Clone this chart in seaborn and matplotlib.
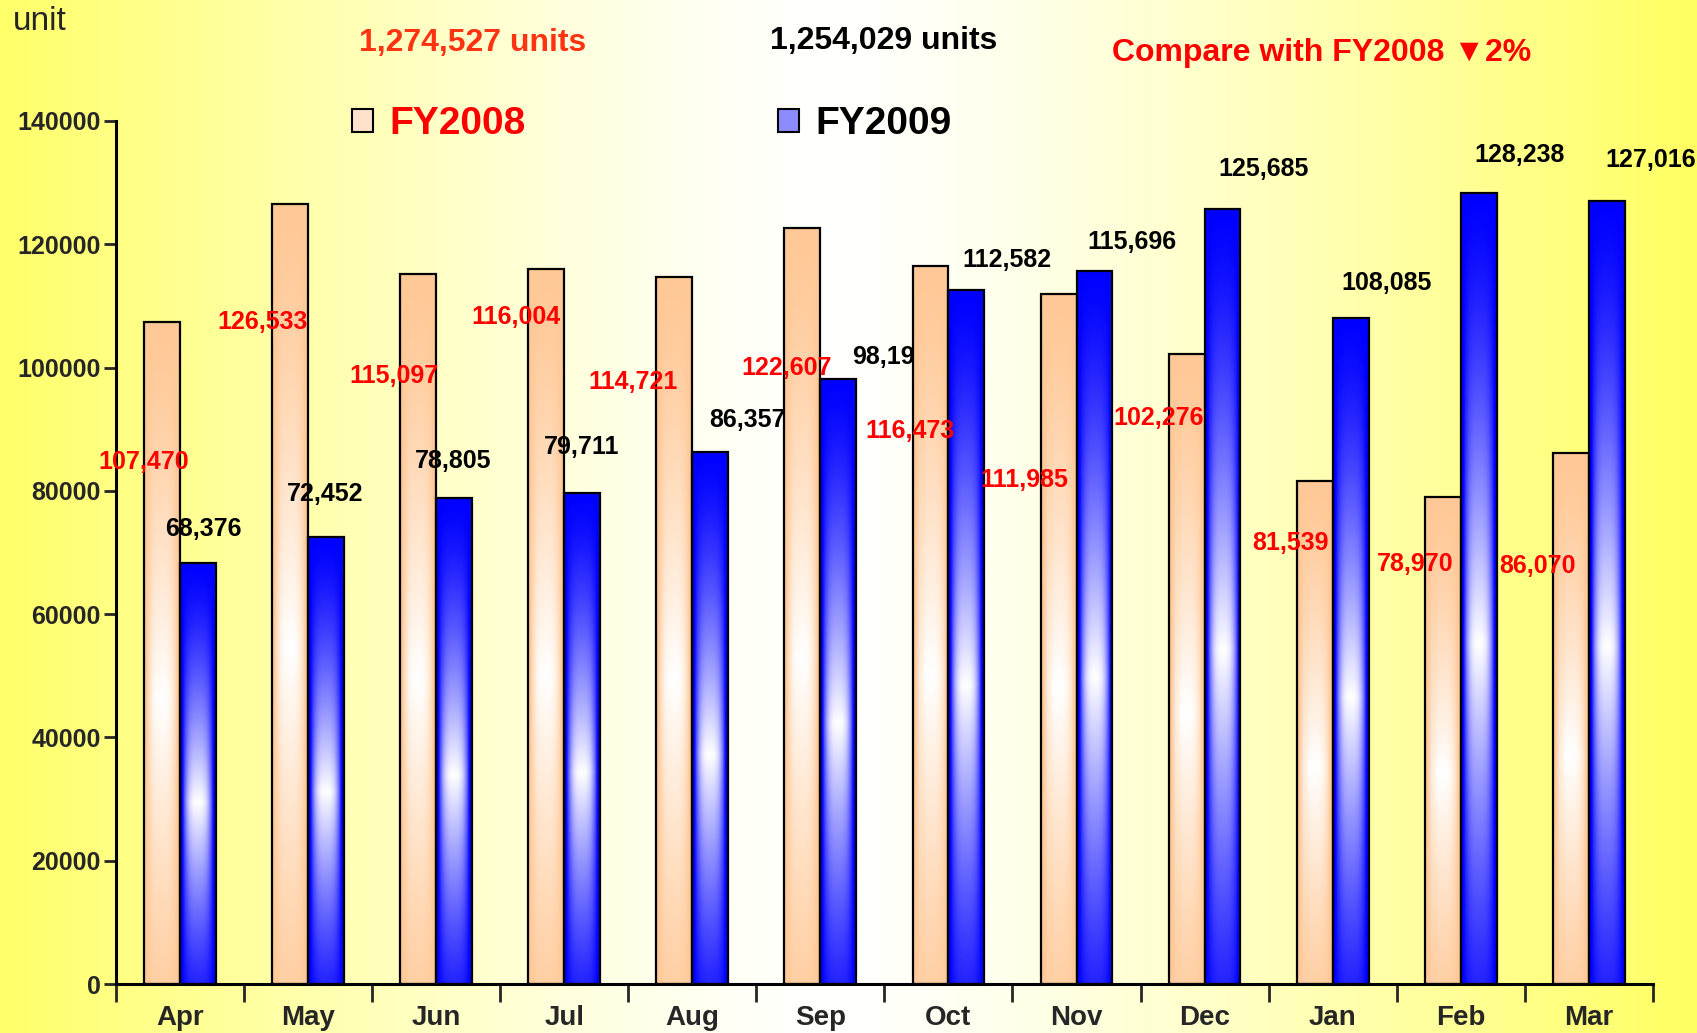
import numpy as np
import pandas as pd
import matplotlib
matplotlib.use('Agg')
from matplotlib import pyplot as plt
from matplotlib.colors import to_rgb
from matplotlib.patches import Patch
import seaborn as sns

### data ###
months = ['Apr', 'May', 'Jun', 'Jul', 'Aug', 'Sep', 'Oct', 'Nov', 'Dec', 'Jan', 'Feb', 'Mar']
fy2008 = [107470, 126533, 115097, 116004, 114721, 122607, 116473, 111985, 102276, 81539, 78970, 86070]
fy2009 = [68376, 72452, 78805, 79711, 86357, 98195, 112582, 115696, 125685, 108085, 128238, 127016]
series = ['FY2008', 'FY2009']
total_2008 = '1,274,527 units'
total_2009 = '1,254,029 units'
compare_text = 'Compare with FY2008 \u25bc2%'
y_ticks = [0, 20000, 40000, 60000, 80000, 100000, 120000, 140000]

# where the value labels sit (offsets from each bar, layout only)
lab08_dx = [-0.28, -0.355, -0.33, -0.38, -0.46, -0.26, -0.30, -0.41, -0.36, -0.33, -0.355, -0.40]
lab08_dy = [-22800, -19200, -16400, -7800, -17100, -22700, -26700, -30300, -10400, -10000, -10800, -18300]
lab09_dx = [0.18, 0.135, 0.135, 0.135, 0.43, 0.55, 0.46, 0.43, 0.46, 0.42, 0.46, 0.48]
lab09_dy = [5400, 7100, 6000, 7400, 5200, 3500, 4900, 4600, 6600, 5700, 6300, 6650]
lab09_behind = ['Sep']

palette = {'FY2008': '#FFC896', 'FY2009': '#0000FF'}

sns.set_style('white')
plt.rcParams['font.family'] = ['Liberation Sans', 'DejaVu Sans']
plt.rcParams['font.weight'] = 'bold'


def bar_gradient(color, nx=60, ny=240):
    # saturated at top/bottom and edges, white streak a bit below the middle
    c = np.array(to_rgb(color))
    v = np.linspace(0, 1, ny)[:, None]
    u = np.linspace(0, 1, nx)[None, :]
    wv = np.clip(1 - np.abs(v - 0.57) / 0.57, 0, 1) ** 1.4
    wh = np.clip(1 - (np.abs(u - 0.5) * 2 / 0.88) ** 3, 0, 1)
    w = wv * wh
    return c + (1 - c) * w[..., None]


fig = plt.figure(figsize=(16.97, 10.33), dpi=100)

# yellow -> white -> yellow background
bg = fig.add_axes([0, 0, 1, 1], zorder=-10)
xs = np.linspace(0, 1, 800)
d = np.clip(np.abs(xs - 0.49) / 0.51, 0, 1) ** 1.3
yellow = np.array([1.0, 1.0, 0.38])
row = 1 + (yellow - 1) * d[:, None]
bg.imshow(row[None, :, :], aspect='auto', extent=[0, 1, 0, 1])
bg.axis('off')

ax = fig.add_axes([0.0683, 0.0474, 0.974 - 0.0683, 0.8829 - 0.0474])
ax.patch.set_alpha(0)

df = pd.DataFrame({
    'month': months * 2,
    'units': fy2008 + fy2009,
    'year': ['FY2008'] * len(months) + ['FY2009'] * len(months),
})

sns.barplot(data=df, x='month', y='units', hue='year', order=months, hue_order=series,
            palette=palette, saturation=1, width=0.56, errorbar=None,
            edgecolor='black', linewidth=1.6, legend=False, ax=ax, zorder=3)

# gradient fill clipped to each bar
for cont, name in zip(ax.containers, series):
    grad = bar_gradient(palette[name])
    for bar in cont:
        x0, w, h = bar.get_x(), bar.get_width(), bar.get_height()
        im = ax.imshow(grad, extent=[x0, x0 + w, 0, h], aspect='auto',
                       interpolation='bilinear', zorder=2)
        im.set_clip_path(bar)
        bar.set_facecolor('none')
        bar.set_zorder(3)

# value labels
for i, m in enumerate(months):
    ax.text(i + lab08_dx[i], fy2008[i] + lab08_dy[i], f'{fy2008[i]:,}', color='#FF0000',
            fontsize=18, weight='bold', ha='center', va='center', zorder=5, clip_on=False)
    z = 1 if m in lab09_behind else 5
    ax.text(i + lab09_dx[i], fy2009[i] + lab09_dy[i], f'{fy2009[i]:,}', color='black',
            fontsize=18, weight='bold', ha='center', va='center', zorder=z, clip_on=False)

ax.set_xlim(-0.5, len(months) - 0.5)
ax.set_ylim(0, 140000)
ax.set_xlabel('')
ax.set_ylabel('')

ax.set_yticks(y_ticks)
ax.set_yticklabels([str(t) for t in y_ticks])
ax.set_xticks(np.arange(-0.5, len(months)))
ax.set_xticklabels([])
ax.set_xticks(np.arange(len(months)), minor=True)
ax.set_xticklabels(months, minor=True)
ax.tick_params(axis='y', direction='out', length=9, width=2, labelsize=18, pad=2, left=True)
ax.tick_params(axis='x', which='major', direction='out', length=13, width=2, bottom=True)
ax.tick_params(axis='x', which='minor', length=0, labelsize=20, pad=15)

sns.despine(ax=ax)
for s in ['left', 'bottom']:
    ax.spines[s].set_linewidth(2.2)
    ax.spines[s].set_color('black')

# legend
handles = [Patch(facecolor='#FFE2CC', edgecolor='black', linewidth=1.5),
           Patch(facecolor='#8C8CFF', edgecolor='black', linewidth=1.5)]
leg = fig.legend(handles, series, loc='center left', bbox_to_anchor=(352 / 1697, 0.8795),
                 ncol=2, frameon=False, fontsize=28, handlelength=0.55, handleheight=0.55,
                 handletextpad=0.4, columnspacing=6.5, borderpad=0, borderaxespad=0)
for txt, col in zip(leg.get_texts(), ['#FF0000', 'black']):
    txt.set_color(col)
    txt.set_weight('bold')

# header texts
fig.text(13 / 1697, 1 - 22 / 1033, 'unit', fontsize=24, weight='normal', ha='left', va='center')
fig.text(473 / 1697, 1 - 43 / 1033, total_2008, fontsize=23, weight='bold', color='#FF3311',
         ha='center', va='center')
fig.text(884 / 1697, 1 - 41 / 1033, total_2009, fontsize=23, weight='bold', color='black',
         ha='center', va='center')
fig.text(1322 / 1697, 1 - 53 / 1033, compare_text, fontsize=23, weight='bold', color='#FF0000',
         ha='center', va='center')

fig.savefig('out.png', dpi=100)
